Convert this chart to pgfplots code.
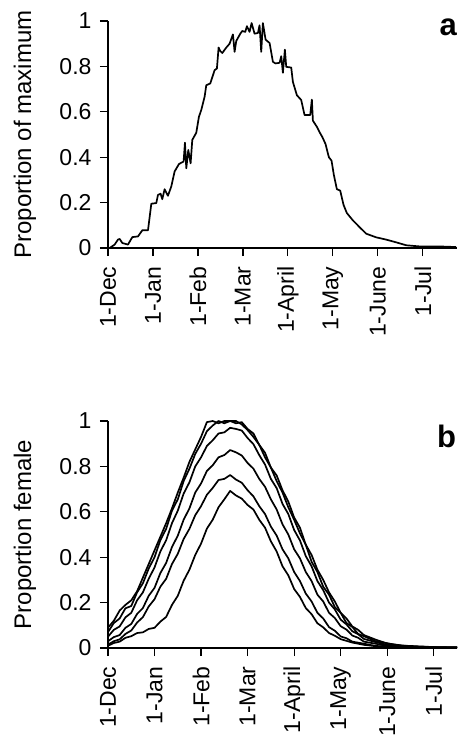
\documentclass[border=0pt]{standalone}
\usepackage{fontspec}
\setmainfont{Liberation Sans}
\usepackage{pgfplots}
\pgfplotsset{compat=1.18}

\pgfplotsset{
  panel/.style={
    scale only axis, width=349pt, height=227pt,
    xmin=0, ymin=0, ymax=1,
    axis x line*=bottom, axis y line*=left,
    axis line style={line width=1.2pt},
    xtick={0,1,2,3,4,5,6,7},
    xticklabels={1-Dec,1-Jan,1-Feb,1-Mar,1-April,1-May,1-June,1-Jul},
    ytick={0,0.2,0.4,0.6,0.8,1},
    tick align=outside, major tick length=8pt,
    tick style={line width=1.2pt, black},
    x tick label style={rotate=90, anchor=east},
    xticklabel shift=7pt, yticklabel shift=5pt,
    tick label style={font=\fontsize{23}{27}\selectfont},
    label style={font=\fontsize{24}{28}\selectfont},
    /pgf/number format/assume math mode=true,
    ylabel style={at={(axis description cs:-0.238,0.5)}, anchor=center},
    clip=false,
    cycle list={{black}}, no markers,
    every axis plot/.append style={line width=1.7pt, line join=round},
  }
}

\begin{document}
\begin{tikzpicture}
\path[use as bounding box] (-108pt,-493pt) rectangle (350pt,248pt);

% panel a: proportion of maximum
\begin{axis}[panel, at={(0,0)}, anchor=south west, xmax=7.76,
  ylabel={Proportion of maximum}]
\addplot coordinates {
(0.037,0.000)(0.148,0.015)(0.222,0.037)(0.259,0.040)(0.319,0.022)(0.444,0.015)
(0.541,0.048)(0.667,0.051)(0.763,0.078)(0.889,0.078)(0.963,0.195)(1.074,0.198)
(1.111,0.234)(1.170,0.239)(1.207,0.215)(1.259,0.259)(1.333,0.230)(1.407,0.271)
(1.481,0.337)(1.578,0.370)(1.681,0.381)(1.711,0.464)(1.741,0.351)(1.785,0.432)
(1.837,0.373)(1.874,0.476)(1.963,0.508)(2.022,0.578)(2.074,0.608)(2.148,0.666)
(2.185,0.717)(2.274,0.725)(2.370,0.783)(2.422,0.791)(2.459,0.883)(2.496,0.868)
(2.541,0.859)(2.630,0.883)(2.704,0.900)(2.778,0.941)(2.815,0.864)(2.852,0.912)
(2.941,0.944)(2.985,0.956)(3.052,0.952)(3.089,0.977)(3.148,0.952)(3.193,0.991)
(3.259,0.944)(3.333,0.947)(3.370,0.981)(3.407,0.864)(3.444,0.991)(3.504,0.918)
(3.593,0.903)(3.667,0.820)(3.726,0.813)(3.815,0.816)(3.852,0.845)(3.889,0.772)
(3.933,0.874)(3.963,0.798)(4.074,0.795)(4.111,0.732)(4.200,0.673)(4.296,0.652)
(4.370,0.586)(4.496,0.586)(4.533,0.654)(4.556,0.561)(4.644,0.534)(4.719,0.505)
(4.763,0.490)(4.837,0.458)(4.911,0.400)(4.970,0.385)(5.022,0.322)(5.089,0.259)
(5.163,0.253)(5.237,0.190)(5.311,0.154)(5.444,0.122)(5.593,0.092)(5.741,0.063)
(5.963,0.047)(6.185,0.037)(6.407,0.025)(6.630,0.012)(6.926,0.007)(7.222,0.007)
(7.519,0.006)(7.741,0.004)
};
\node[font=\bfseries\fontsize{31}{31}\selectfont] at (rel axis cs:0.975,0.974) {a};
\end{axis}

% panel b: proportion female
\begin{axis}[panel, at={(0,-400pt)}, anchor=south west, xmax=7.5,
  ylabel={Proportion female}]
\addplot coordinates {
(0,0.090)(0.125,0.120)(0.25,0.165)(0.375,0.190)(0.5,0.210)(0.625,0.250)(0.75,0.310)
(0.875,0.370)(1.0,0.430)(1.125,0.490)(1.25,0.550)(1.375,0.615)(1.5,0.685)(1.625,0.750)
(1.75,0.820)(1.875,0.875)(2.0,0.930)(2.125,0.995)(2.25,1.0)(2.375,0.99)(2.5,1.0)
(2.625,1.0)(2.75,1.0)(2.875,0.985)(3.0,0.960)(3.125,0.930)(3.25,0.895)(3.375,0.840)
(3.5,0.795)(3.625,0.735)(3.75,0.685)(3.875,0.620)(4.0,0.565)(4.125,0.505)(4.25,0.455)
(4.375,0.380)(4.5,0.335)(4.625,0.270)(4.75,0.235)(4.875,0.180)(5.0,0.155)(5.125,0.110)
(5.25,0.093)(5.375,0.062)(5.5,0.052)(5.75,0.030)(6.0,0.021)(6.25,0.011)(6.5,0.009)
(7.0,0.004)(7.5,0.003)
};
\addplot coordinates {
(0,0.070)(0.125,0.110)(0.25,0.130)(0.375,0.175)(0.5,0.185)(0.625,0.245)(0.75,0.285)
(0.875,0.350)(1.0,0.400)(1.125,0.475)(1.25,0.525)(1.375,0.605)(1.5,0.655)(1.625,0.735)
(1.75,0.790)(1.875,0.855)(2.0,0.900)(2.125,0.955)(2.25,0.980)(2.375,1.0)(2.5,0.990)
(2.625,1.0)(2.75,0.990)(2.875,0.995)(3.0,0.965)(3.125,0.945)(3.25,0.895)(3.375,0.860)
(3.5,0.795)(3.625,0.760)(3.75,0.695)(3.875,0.645)(4.0,0.575)(4.125,0.530)(4.25,0.455)
(4.375,0.410)(4.5,0.345)(4.625,0.300)(4.75,0.245)(4.875,0.205)(5.0,0.155)(5.125,0.130)
(5.25,0.095)(5.375,0.080)(5.5,0.057)(5.75,0.037)(6.0,0.020)(6.25,0.013)(6.5,0.007)
(7.0,0.004)(7.5,0.002)
};
\addplot coordinates {
(0,0.050)(0.125,0.080)(0.25,0.095)(0.375,0.135)(0.5,0.155)(0.625,0.210)(0.75,0.245)
(0.875,0.305)(1.0,0.355)(1.125,0.425)(1.25,0.475)(1.375,0.550)(1.5,0.605)(1.625,0.680)
(1.75,0.730)(1.875,0.800)(2.0,0.840)(2.125,0.890)(2.25,0.915)(2.375,0.945)(2.5,0.950)
(2.625,0.970)(2.75,0.965)(2.875,0.958)(3.0,0.925)(3.125,0.898)(3.25,0.850)(3.375,0.808)
(3.5,0.745)(3.625,0.704)(3.75,0.635)(3.875,0.590)(4.0,0.520)(4.125,0.474)(4.25,0.405)
(4.375,0.360)(4.5,0.295)(4.625,0.255)(4.75,0.200)(4.875,0.170)(5.0,0.125)(5.125,0.104)
(5.25,0.074)(5.375,0.061)(5.5,0.040)(5.75,0.026)(6.0,0.014)(6.25,0.010)(6.5,0.006)
(7.0,0.003)(7.5,0.002)
};
\addplot coordinates {
(0,0.030)(0.125,0.048)(0.25,0.057)(0.375,0.089)(0.5,0.106)(0.625,0.150)(0.75,0.176)
(0.875,0.230)(1.0,0.265)(1.125,0.330)(1.25,0.375)(1.375,0.445)(1.5,0.495)(1.625,0.565)
(1.75,0.615)(1.875,0.685)(2.0,0.725)(2.125,0.780)(2.25,0.805)(2.375,0.840)(2.5,0.850)
(2.625,0.872)(2.75,0.862)(2.875,0.848)(3.0,0.815)(3.125,0.790)(3.25,0.745)(3.375,0.710)
(3.5,0.655)(3.625,0.610)(3.75,0.545)(3.875,0.500)(4.0,0.435)(4.125,0.395)(4.25,0.335)
(4.375,0.295)(4.5,0.235)(4.625,0.205)(4.75,0.155)(4.875,0.132)(5.0,0.096)(5.125,0.081)
(5.25,0.055)(5.375,0.045)(5.5,0.028)(5.75,0.019)(6.0,0.009)(6.5,0.005)(7.0,0.003)
(7.5,0.002)
};
\addplot coordinates {
(0,0.015)(0.125,0.030)(0.25,0.038)(0.375,0.062)(0.5,0.077)(0.625,0.112)(0.75,0.136)
(0.875,0.183)(1.0,0.215)(1.125,0.270)(1.25,0.305)(1.375,0.370)(1.5,0.415)(1.625,0.480)
(1.75,0.525)(1.875,0.585)(2.0,0.625)(2.125,0.675)(2.25,0.705)(2.375,0.740)(2.5,0.745)
(2.625,0.762)(2.75,0.742)(2.875,0.728)(3.0,0.695)(3.125,0.668)(3.25,0.625)(3.375,0.590)
(3.5,0.535)(3.625,0.495)(3.75,0.435)(3.875,0.395)(4.0,0.335)(4.125,0.295)(4.25,0.240)
(4.375,0.205)(4.5,0.155)(4.625,0.130)(4.75,0.092)(4.875,0.076)(5.0,0.051)(5.125,0.043)
(5.25,0.028)(5.5,0.019)(5.75,0.009)(6.0,0.006)(6.5,0.003)(7.0,0.002)(7.5,0.001)
};
\addplot coordinates {
(0,0.010)(0.125,0.022)(0.25,0.028)(0.375,0.045)(0.5,0.052)(0.625,0.066)(0.75,0.069)
(0.875,0.084)(1.0,0.089)(1.125,0.116)(1.25,0.137)(1.375,0.190)(1.5,0.230)(1.625,0.296)
(1.75,0.345)(1.875,0.410)(2.0,0.460)(2.125,0.526)(2.25,0.565)(2.375,0.620)(2.5,0.655)
(2.625,0.692)(2.75,0.672)(2.875,0.658)(3.0,0.630)(3.125,0.610)(3.25,0.565)(3.375,0.530)
(3.5,0.470)(3.625,0.425)(3.75,0.360)(3.875,0.320)(4.0,0.260)(4.125,0.225)(4.25,0.176)
(4.375,0.149)(4.5,0.109)(4.625,0.091)(4.75,0.066)(4.875,0.054)(5.0,0.039)(5.25,0.024)
(5.5,0.014)(5.75,0.008)(6.0,0.005)(6.5,0.002)(7.0,0.001)(7.5,0.001)
};
\node[font=\bfseries\fontsize{31}{31}\selectfont] at (rel axis cs:0.97,0.93) {b};
\end{axis}
\end{tikzpicture}
\end{document}
